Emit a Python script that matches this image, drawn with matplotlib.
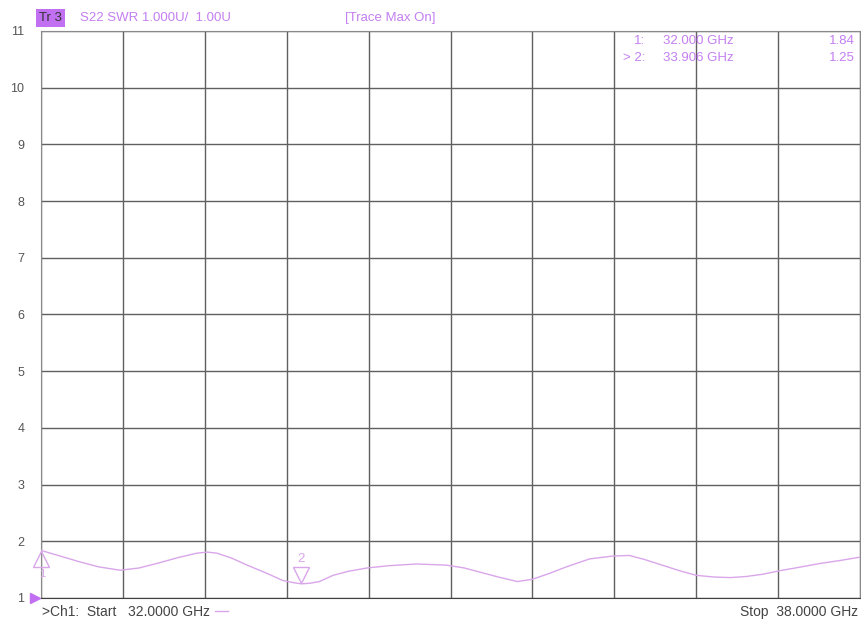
import numpy as np
import matplotlib.pyplot as plt
from matplotlib.transforms import ScaledTranslation

plt.rcParams['font.family'] = ['Liberation Sans', 'DejaVu Sans']

# SWR trace
freq_ghz = [32.00, 32.14, 32.28, 32.42, 32.58, 32.72, 32.85, 33.00, 33.14, 33.22,
            33.29, 33.40, 33.51, 33.65, 33.77, 33.85, 33.906, 33.97, 34.04, 34.14,
            34.25, 34.39, 34.55, 34.75, 34.97, 35.10, 35.21, 35.35, 35.49, 35.60,
            35.72, 35.85, 36.02, 36.19, 36.31, 36.42, 36.55, 36.68, 36.80, 36.93,
            37.05, 37.17, 37.29, 37.41, 37.55, 37.71, 37.85, 38.00]
swr = [1.84, 1.74, 1.64, 1.55, 1.49, 1.53, 1.61, 1.71, 1.79, 1.81,
       1.79, 1.70, 1.58, 1.44, 1.31, 1.27, 1.25, 1.26, 1.29, 1.40,
       1.47, 1.53, 1.57, 1.60, 1.58, 1.53, 1.46, 1.37, 1.29, 1.33,
       1.43, 1.55, 1.69, 1.74, 1.75, 1.68, 1.58, 1.48, 1.40, 1.37,
       1.36, 1.38, 1.42, 1.48, 1.54, 1.61, 1.66, 1.72]

marker_freq = [32.000, 33.906]
marker_swr = [1.84, 1.25]
y_ticks = [1, 2, 3, 4, 5, 6, 7, 8, 9, 10, 11]

trace_col = '#d9a6ea'
text_col = '#c47ff0'
grid_col = '#606060'
fs = 9.5

fig = plt.figure(figsize=(8.61, 6.23), dpi=100)
W, H = 861, 623
ax = fig.add_axes([41 / W, 1 - 598 / H, (860 - 41) / W, (598 - 31) / H])

ax.set_xlim(32, 38)
ax.set_ylim(1, 11)
ax.set_xticks(np.linspace(32, 38, 11))
ax.set_yticks(y_ticks)
ax.set_xticklabels([])
ax.set_yticklabels([str(v) for v in y_ticks], fontsize=9, color='#555555')
ax.tick_params(length=0, pad=12)
ax.grid(True, color=grid_col, linewidth=1.0)
for s in ax.spines.values():
    s.set_color('#8a8a8a')
ax.spines['bottom'].set_color('#404040')

ax.plot(freq_ghz, swr, color=trace_col, linewidth=1.0, zorder=3)

# marker 1: triangle up, apex on trace
up = ax.transData + ScaledTranslation(0, -6 / 72, fig.dpi_scale_trans)
ax.plot(marker_freq[0], marker_swr[0], marker='^', markersize=12,
        markerfacecolor='none', markeredgecolor=trace_col, markeredgewidth=1,
        transform=up, clip_on=False, zorder=4)
ax.text(marker_freq[0] + 0.01, marker_swr[0] - 0.42, '1', color=trace_col,
        fontsize=8, ha='center', va='center', clip_on=False)

# marker 2: triangle down, apex on trace
dn = ax.transData + ScaledTranslation(0, 6 / 72, fig.dpi_scale_trans)
ax.plot(marker_freq[1], marker_swr[1], marker='v', markersize=12,
        markerfacecolor='none', markeredgecolor=trace_col, markeredgewidth=1,
        transform=dn, zorder=4)
ax.text(marker_freq[1], marker_swr[1] + 0.43, '2', color=trace_col,
        fontsize=fs, ha='center', va='center')

# reference level pointer
ax.plot(32, 1, marker='>', markersize=7, color='#c070f0',
        transform=ax.transData + ScaledTranslation(-4 / 72, 0, fig.dpi_scale_trans),
        clip_on=False, zorder=5)

# header
fig.text(39 / W, 1 - 18 / H, 'Tr 3', fontsize=fs, color='#333333',
         va='center', ha='left',
         bbox=dict(boxstyle='square,pad=0.25', facecolor='#c070f0', edgecolor='none'))
fig.text(80 / W, 1 - 18 / H, 'S22 SWR 1.000U/  1.00U', fontsize=fs,
         color=text_col, va='center', ha='left')
fig.text(345 / W, 1 - 18 / H, '[Trace Max On]', fontsize=fs,
         color=text_col, va='center', ha='left')

# marker table
rows = [('1:', 1 - 41 / H), ('> 2:', 1 - 58 / H)]
for i, (lab, yy) in enumerate(rows):
    fig.text(645 / W, yy, lab, fontsize=fs, color=text_col, ha='right', va='center')
    fig.text(663 / W, yy, f'{marker_freq[i]:.3f} GHz', fontsize=fs,
             color=text_col, ha='left', va='center')
    fig.text(855 / W, yy, f'{marker_swr[i]:.2f}', fontsize=fs,
             color=text_col, ha='right', va='center')

# footer
fig.text(42 / W, 1 - 612 / H, '>Ch1:  Start   32.0000 GHz', fontsize=10,
         color='#444444', ha='left', va='center')
fig.lines.append(plt.Line2D([215 / W, 228 / W], [1 - 611 / H, 1 - 611 / H],
                            transform=fig.transFigure, color=trace_col, linewidth=1))
fig.text(858 / W, 1 - 612 / H, 'Stop  38.0000 GHz', fontsize=10,
         color='#444444', ha='right', va='center')

fig.savefig('out.png', dpi=100)
